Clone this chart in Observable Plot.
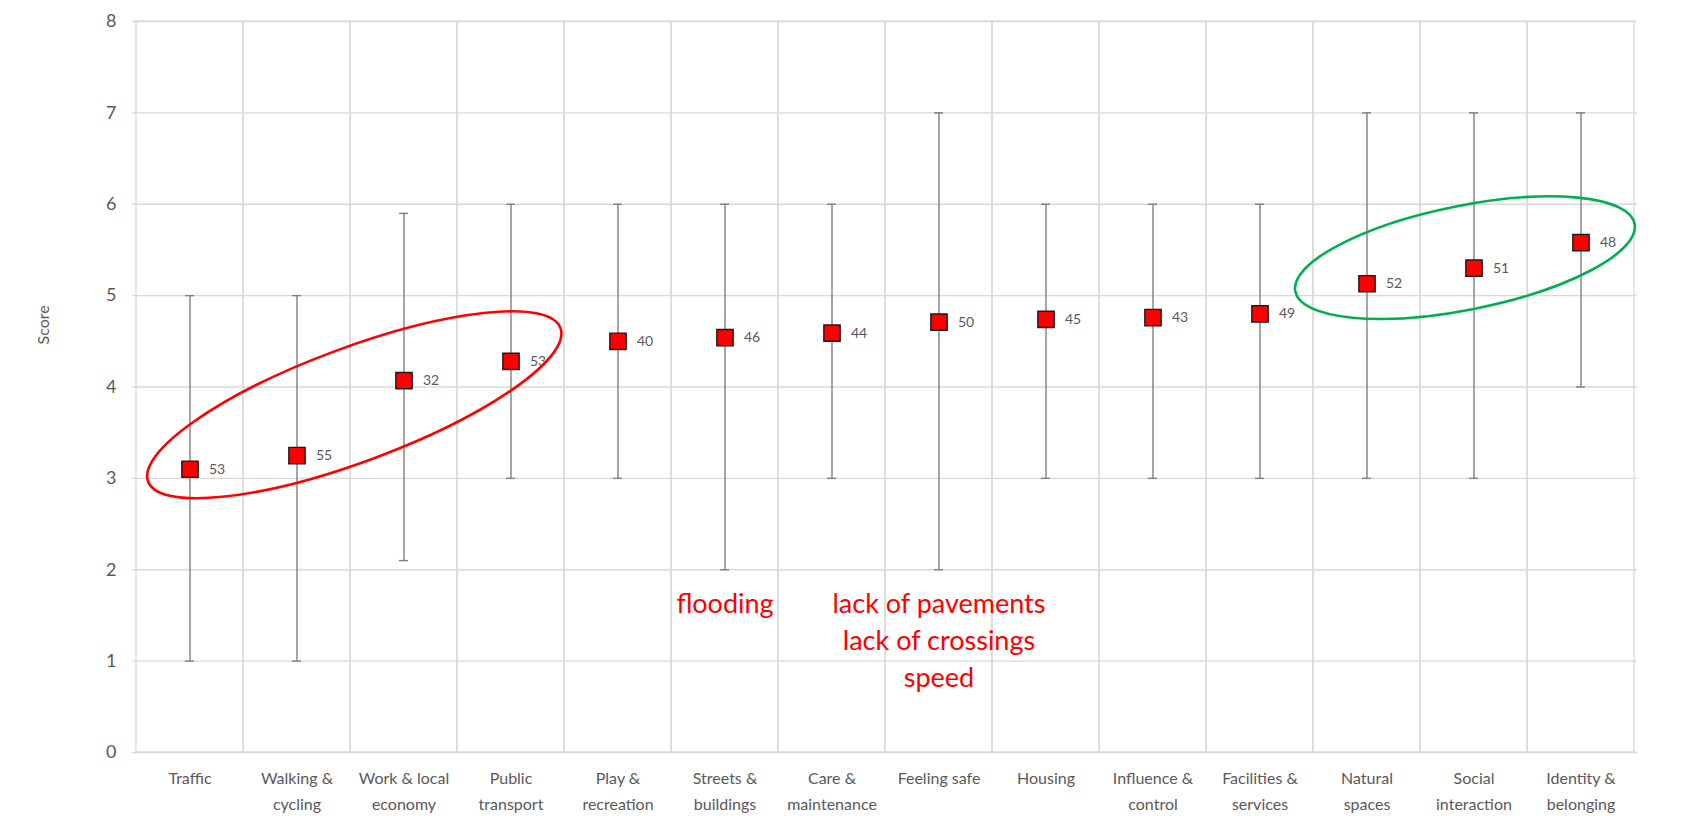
<!DOCTYPE html>
<html>
<head>
<meta charset="utf-8">
<script src="https://cdn.jsdelivr.net/npm/d3@7"></script>
<script src="https://cdn.jsdelivr.net/npm/@observablehq/plot@0.6"></script>
<style>
  html, body { margin: 0; padding: 0; background: #fff; }
  #wrap { position: relative; width: 1690px; height: 816px; overflow: hidden; }
  #wrap svg { position: absolute; left: 0; top: 0; }
  #edge { position: absolute; left: 4px; top: 0; width: 1.5px; height: 816px; background: #d9d9d9; }
</style>
</head>
<body>
<div id="wrap"><div id="edge"></div></div>
<script>
// ---- data ----
const categories = ["Traffic", "Walking & cycling", "Work & local economy", "Public transport",
  "Play & recreation", "Streets & buildings", "Care & maintenance", "Feeling safe", "Housing",
  "Influence & control", "Facilities & services", "Natural spaces", "Social interaction", "Identity & belonging"];
const tickLabels = ["Traffic", "Walking &\ncycling", "Work & local\neconomy", "Public\ntransport",
  "Play &\nrecreation", "Streets &\nbuildings", "Care &\nmaintenance", "Feeling safe", "Housing",
  "Influence &\ncontrol", "Facilities &\nservices", "Natural\nspaces", "Social\ninteraction", "Identity &\nbelonging"];
const meanScore = [3.10, 3.25, 4.07, 4.28, 4.50, 4.54, 4.59, 4.71, 4.74, 4.76, 4.80, 5.13, 5.30, 5.58];
const minScore  = [1, 1, 2.1, 3, 3, 2, 3, 2, 3, 3, 3, 3, 3, 4];
const maxScore  = [5, 5, 5.9, 6, 6, 6, 6, 7, 6, 6, 6, 7, 7, 7];
const counts    = [53, 55, 32, 53, 40, 46, 44, 50, 45, 43, 49, 52, 51, 48];
const yTicks = [0, 1, 2, 3, 4, 5, 6, 7, 8];

// annotations (red notes under categories)
const noteCategory = ["Streets & buildings", "Feeling safe"];
const noteText = ["flooding", "lack of pavements\nlack of crossings\nspeed"];
const noteScore = [1.81, 1.81];

// highlight ellipses: centre as (fractional category index, score)
const ellipseCenterIndex = [1.54, 11.92];
const ellipseCenterScore = [3.80, 5.41];
const ellipseColor = ["#ff0000", "#00b050"];

// ---- build ----
const rows = categories.map((c, i) => ({cat: c, mean: meanScore[i], lo: minScore[i], hi: maxScore[i], n: counts[i]}));
const labelOf = new Map(categories.map((c, i) => [c, tickLabels[i]]));
const notes = noteText.map((t, i) => ({cat: noteCategory[i], text: t, y: noteScore[i]}));
const ellipseShape = [{rx: 220, ry: 57, angle: -20.4}, {rx: 173, ry: 52, angle: -11.3}];

function ellipses(index, scales) {
  const ns = "http://www.w3.org/2000/svg";
  const g = document.createElementNS(ns, "g");
  const x0 = scales.x(categories[0]);
  const step = scales.x(categories[1]) - x0;
  ellipseCenterIndex.forEach((ci, i) => {
    const cx = x0 + (ci + 0.5) * step;
    const cy = scales.y(ellipseCenterScore[i]);
    const e = document.createElementNS(ns, "ellipse");
    e.setAttribute("cx", 0); e.setAttribute("cy", 0);
    e.setAttribute("rx", ellipseShape[i].rx); e.setAttribute("ry", ellipseShape[i].ry);
    e.setAttribute("transform", `translate(${cx},${cy}) rotate(${ellipseShape[i].angle})`);
    e.setAttribute("fill", "none");
    e.setAttribute("stroke", ellipseColor[i]);
    e.setAttribute("stroke-width", 2.6);
    g.appendChild(e);
  });
  return g;
}

const chart = Plot.plot({
  width: 1690, height: 816,
  marginLeft: 132, marginRight: 53, marginTop: 21, marginBottom: 64,
  style: {fontFamily: "Lato, 'Open Sans', sans-serif", background: "white"},
  x: {domain: categories, padding: 0},
  y: {domain: [0, 8]},
  marks: [
    Plot.barY(categories, {x: d => d, y1: 0, y2: 8, fill: "none", stroke: "#d9d9d9", strokeWidth: 1.3, inset: 0}),
    Plot.ruleY(yTicks, {stroke: "#d9d9d9", strokeWidth: 1.3}),
    Plot.axisY(yTicks, {tickSize: 0, tickPadding: 16, fontSize: 18, color: "#595959", label: null, tickFormat: d => String(d)}),
    Plot.axisX(categories, {tickSize: 0, tickPadding: 13, fontSize: 16, lineHeight: 1.62, color: "#595959",
      tickFormat: d => labelOf.get(d), label: null}),
    Plot.text(["Score"], {frameAnchor: "top-left", dx: -95, dy: 323, rotate: -90, fontSize: 16, fill: "#595959"}),
    Plot.ruleX(rows, {x: "cat", y1: "lo", y2: "hi", stroke: "#7f7f7f", strokeWidth: 1.4}),
    Plot.tickY(rows, {x: "cat", y: "hi", stroke: "#7f7f7f", strokeWidth: 1.4, insetLeft: 49, insetRight: 49}),
    Plot.tickY(rows, {x: "cat", y: "lo", stroke: "#7f7f7f", strokeWidth: 1.4, insetLeft: 49, insetRight: 49}),
    Plot.dot(rows, {x: "cat", y: "mean", symbol: "square", r: 9.2, fill: "#ff0000", stroke: "#1a1a1a", strokeWidth: 1.4}),
    Plot.text(rows, {x: "cat", y: "mean", text: "n", dx: 19, textAnchor: "start", fontSize: 14, fill: "#595959"}),
    Plot.text(notes, {x: "cat", y: "y", text: "text", lineAnchor: "top", fontSize: 27, lineHeight: 1.36, fill: "#ff0000"}),
    ellipses
  ]
});
document.getElementById("wrap").appendChild(chart);
</script>
</body>
</html>
